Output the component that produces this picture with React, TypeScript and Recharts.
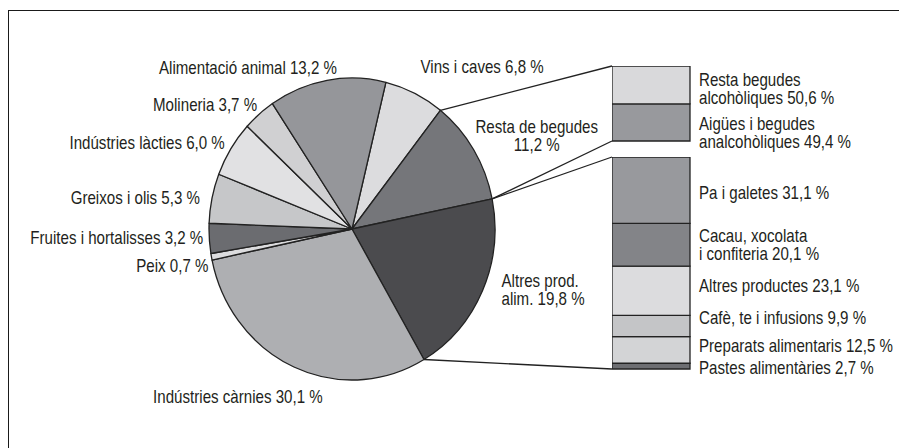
import React from "react";
import { PieChart, Pie, Cell, BarChart, Bar, XAxis, YAxis, LabelList } from "recharts";

// main pie, clockwise from the top
const PIE_NAMES = [
  "Vins i caves",
  "Resta de begudes\n",
  "Altres prod.\nalim.",
  "Indústries càrnies",
  "Peix",
  "Fruites i hortalisses",
  "Greixos i olis",
  "Indústries làcties",
  "Molineria",
  "Alimentació animal",
];
const PIE_VALUES = [6.8, 11.2, 19.8, 30.1, 0.7, 3.2, 5.3, 6.0, 3.7, 13.2];
const PIE_COLORS = [
  "#dcdcde", "#75767a", "#4b4b4e", "#aeafb2", "#dcdcde",
  "#6b6c70", "#c6c7c9", "#e1e1e3", "#d0d0d2", "#95969a",
];

// breakdown of "Resta de begudes", top to bottom
const BEG_NAMES = ["Resta begudes\nalcohòliques", "Aigües i begudes\nanalcohòliques"];
const BEG_VALUES = [50.6, 49.4];
const BEG_COLORS = ["#d9d9db", "#98999d"];

// breakdown of "Altres prod. alim.", top to bottom
const ALT_NAMES = [
  "Pa i galetes",
  "Cacau, xocolata\ni confiteria",
  "Altres productes",
  "Cafè, te i infusions",
  "Preparats alimentaris",
  "Pastes alimentàries",
];
const ALT_VALUES = [31.1, 20.1, 23.1, 9.9, 12.5, 2.7];
const ALT_COLORS = ["#98999d", "#838488", "#dcdcde", "#c4c5c7", "#d3d4d6", "#6d6e72"];

// no condensed face installed, so squeeze a regular one
const FONT = "'Liberation Sans', Arial, sans-serif";
const FS = 18;
const SQUEEZE = 0.84;
const INK = "#231f20";
const EDGE = "#222";

const W = 891;
const H = 440;
const CX = 344;
const CY = 221;
const RX = 143;
const RY = 151;
const START = 76.3;

const TOP_BOX = { x: 604, y: 58, w: 78, h: 75 };
const BOT_BOX = { x: 604, y: 149, w: 78, h: 212 };

// where each pie label sits relative to the rim point at its mid angle
const PIE_LABEL_POS: Record<string, { dx: number; dy: number; anchor: "start" | "middle" | "end" }> = {
  "Vins i caves": { dx: 6, dy: -27, anchor: "start" },
  "Resta de begudes\n": { dx: 63, dy: -14, anchor: "middle" },
  "Altres prod.\nalim.": { dx: 19, dy: -1, anchor: "start" },
  "Indústries càrnies": { dx: -56, dy: 30, anchor: "middle" },
  Peix: { dx: -3, dy: 9, anchor: "end" },
  "Fruites i hortalisses": { dx: -6, dy: -1, anchor: "end" },
  "Greixos i olis": { dx: -12, dy: -1, anchor: "end" },
  "Indústries làcties": { dx: -6, dy: -6, anchor: "end" },
  Molineria: { dx: -2, dy: -10, anchor: "end" },
  "Alimentació animal": { dx: 10, dy: -13, anchor: "end" },
};

// small vertical nudges for the box labels
const BOX_LABEL_DY: Record<string, number> = {
  "Resta begudes\nalcohòliques": 4,
  "Aigües i begudes\nanalcohòliques": 10,
  "Pa i galetes": 2,
  "Altres productes": -5,
  "Cafè, te i infusions": -9,
  "Preparats alimentaris": -4,
  "Pastes alimentàries": 1,
};

const pct = (v: number) => `${v.toFixed(1).replace(".", ",")} %`;
const RAD = Math.PI / 180;
const rim = (angle: number) => ({
  x: CX + RX * Math.cos(angle * RAD),
  y: CY - RY * Math.sin(angle * RAD),
});

function labelLines(name: string, value: number) {
  const parts = name.split("\n");
  parts[parts.length - 1] = (parts[parts.length - 1] + " " + pct(value)).trim();
  return parts;
}

function MultiLine({ x, y, lines, anchor }: { x: number; y: number; lines: string[]; anchor: string }) {
  const lh = 18;
  const top = y - ((lines.length - 1) * lh) / 2;
  return (
    <g transform={`translate(${x},${top}) scale(${SQUEEZE},1)`}>
      <text x={0} y={0} textAnchor={anchor as any} fontFamily={FONT} fontSize={FS} fill={INK} dominantBaseline="central">
        {lines.map((l, i) => (
          <tspan key={i} x={0} y={i * lh}>
            {l}
          </tspan>
        ))}
      </text>
    </g>
  );
}

// elliptical sector, the reference pie is a bit taller than wide
function EllipseSector(props: any) {
  const { cx, cy, outerRadius, startAngle, endAngle, fill } = props;
  const rx = outerRadius;
  const ry = (outerRadius * RY) / RX;
  const p0 = { x: cx + rx * Math.cos(startAngle * RAD), y: cy - ry * Math.sin(startAngle * RAD) };
  const p1 = { x: cx + rx * Math.cos(endAngle * RAD), y: cy - ry * Math.sin(endAngle * RAD) };
  const large = Math.abs(endAngle - startAngle) > 180 ? 1 : 0;
  const sweep = startAngle > endAngle ? 1 : 0;
  const d = `M${cx},${cy} L${p0.x},${p0.y} A${rx},${ry} 0 ${large} ${sweep} ${p1.x},${p1.y} Z`;
  return <path d={d} fill={fill} stroke={EDGE} strokeWidth={1.3} strokeLinejoin="round" />;
}

function PieLabel(props: any) {
  const { midAngle, name, value } = props;
  const pos = PIE_LABEL_POS[name];
  const p = rim(midAngle);
  return <MultiLine x={p.x + pos.dx} y={p.y + pos.dy} lines={labelLines(name, value)} anchor={pos.anchor} />;
}

function StackBox({ box, names, values, colors }: { box: typeof TOP_BOX; names: string[]; values: number[]; colors: string[] }) {
  const row: Record<string, number | string> = { cat: "x" };
  names.forEach((n, i) => (row[n] = values[i]));
  const total = values.reduce((a, b) => a + b, 0);
  // first bar sits at the bottom of the stack
  const order = names.map((_, i) => i).reverse();
  return (
    <div style={{ position: "absolute", left: box.x, top: box.y }}>
      <BarChart
        width={box.w + 230}
        height={box.h + 20}
        data={[row]}
        margin={{ top: 0, right: 230, bottom: 20, left: 0 }}
        barCategoryGap={0}
      >
        <XAxis dataKey="cat" hide />
        <YAxis hide domain={[0, total]} />
        {order.map((i) => (
          <Bar
            key={names[i]}
            dataKey={names[i]}
            stackId="s"
            fill={colors[i]}
            stroke={EDGE}
            strokeWidth={1.3}
            isAnimationActive={false}
          >
            <LabelList
              dataKey={names[i]}
              content={(p: any) => (
                <MultiLine
                  x={Number(p.x) + Number(p.width) + 9}
                  y={Number(p.y) + Number(p.height) / 2 + (BOX_LABEL_DY[names[i]] ?? 0)}
                  lines={labelLines(names[i], values[i])}
                  anchor="start"
                />
              )}
            />
          </Bar>
        ))}
      </BarChart>
    </div>
  );
}

export default function App() {
  const pieData = PIE_NAMES.map((name, i) => ({ name, value: PIE_VALUES[i] }));
  const pieTotal = PIE_VALUES.reduce((a, b) => a + b, 0);
  const boundary = (k: number) =>
    START - (360 * PIE_VALUES.slice(0, k).reduce((a, b) => a + b, 0)) / pieTotal;

  const a1 = rim(boundary(1));
  const a2 = rim(boundary(2));
  const a3 = rim(boundary(3));

  return (
    <div style={{ position: "relative", width: W, height: H, overflow: "hidden", background: "#fff" }}>
      <div
        style={{
          position: "absolute",
          left: 0,
          top: 2,
          width: 894,
          height: 460,
          border: "1.5px solid #1a1a1a",
          boxSizing: "border-box",
        }}
      />
      <div style={{ position: "absolute", left: 0, top: 0 }}>
        <PieChart width={W} height={H} margin={{ top: 0, right: 0, bottom: 0, left: 0 }}>
          <Pie
            data={pieData}
            dataKey="value"
            nameKey="name"
            cx={CX}
            cy={CY}
            outerRadius={RX}
            startAngle={START}
            endAngle={START - 360}
            shape={EllipseSector}
            label={PieLabel}
            labelLine={false}
            stroke={EDGE}
            isAnimationActive={false}
          >
            {pieData.map((d, i) => (
              <Cell key={d.name} fill={PIE_COLORS[i]} />
            ))}
          </Pie>
        </PieChart>
      </div>
      <StackBox box={TOP_BOX} names={BEG_NAMES} values={BEG_VALUES} colors={BEG_COLORS} />
      <StackBox box={BOT_BOX} names={ALT_NAMES} values={ALT_VALUES} colors={ALT_COLORS} />
      <svg width={W} height={H} style={{ position: "absolute", left: 0, top: 0, pointerEvents: "none" }}>
        <g stroke={EDGE} strokeWidth={1.3} fill="none">
          <line x1={a1.x} y1={a1.y} x2={TOP_BOX.x} y2={TOP_BOX.y} />
          <line x1={a2.x} y1={a2.y} x2={TOP_BOX.x} y2={TOP_BOX.y + TOP_BOX.h} />
          <line x1={a2.x} y1={a2.y} x2={BOT_BOX.x} y2={BOT_BOX.y} />
          <line x1={a3.x} y1={a3.y} x2={BOT_BOX.x} y2={BOT_BOX.y + BOT_BOX.h} />
        </g>
      </svg>
    </div>
  );
}
